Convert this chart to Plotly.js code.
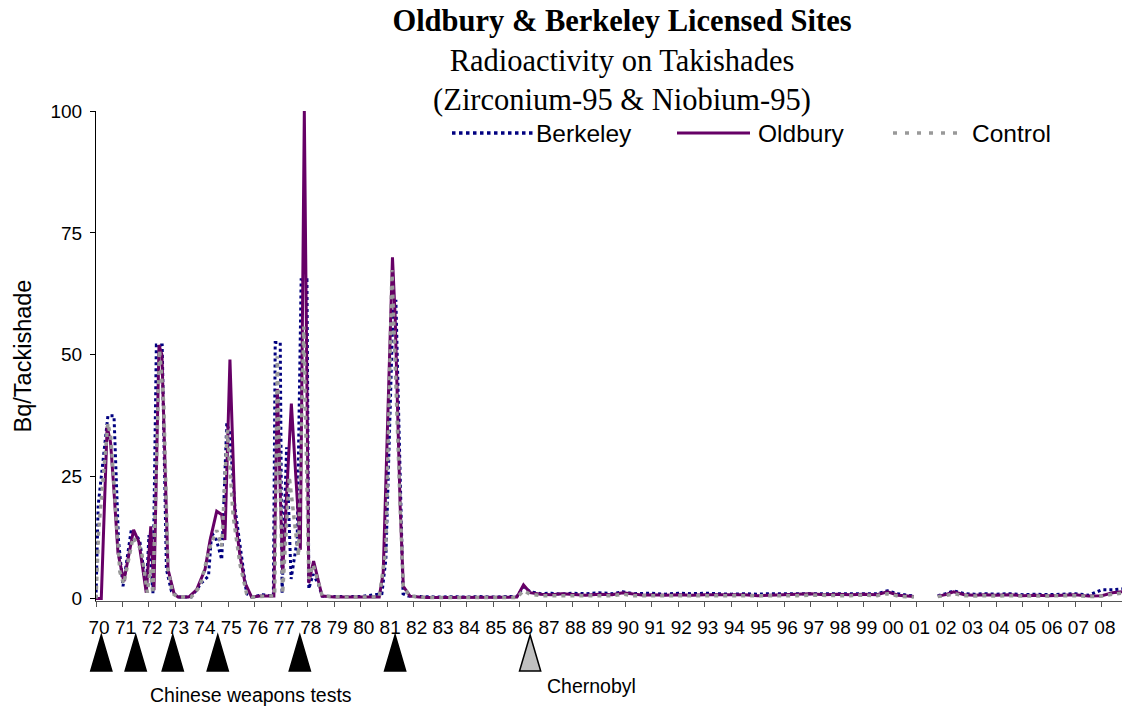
<!DOCTYPE html>
<html>
<head>
<meta charset="utf-8">
<script src="https://cdn.plot.ly/plotly-3.0.1.min.js"></script>
<style>
  html, body { margin: 0; padding: 0; background: #fff; }
  #grafica { width: 1123px; height: 710px; }
</style>
</head>
<body>
<div id="grafica"></div>
<script>
// valores (Bq por takishade), 1970-1982
const oldburyYr = [1970.0, 1970.2, 1970.42, 1970.55, 1970.65, 1970.83, 1971.05, 1971.42, 1971.62, 1971.9,
  1972.07, 1972.19, 1972.38, 1972.49, 1972.72, 1972.95, 1973.1, 1973.5, 1973.8, 1974.12,
  1974.31, 1974.56, 1974.75, 1974.87, 1975.06, 1975.25, 1975.44, 1975.63, 1975.88, 1976.2,
  1976.72, 1976.85, 1977.05, 1977.38, 1977.72, 1977.87, 1978.04, 1978.22, 1978.54, 1979.0,
  1979.5, 1980.0, 1980.7, 1980.85, 1981.2, 1981.3, 1981.49, 1981.61, 1981.86, 1982.2];
const oldburyBq = [0, 0, 35.3, 32, 24.4, 9.4, 3.5, 14.1, 11.6, 1.2,
  14.8, 1.7, 52, 50, 6, 1, 0.3, 0.3, 1.8, 6,
  12, 17.9, 17.2, 12, 49, 16.9, 8.7, 3.2, 0.3, 0.5,
  0.5, 43, 5.3, 40, 10, 100, 3.2, 7.7, 0.5, 0.3,
  0.3, 0.3, 0.3, 5.3, 70, 58, 19, 2.5, 0.5, 0.3];

const berkeleyYr = [1970.0, 1970.08, 1970.45, 1970.68, 1970.85, 1971.02, 1971.33, 1971.65, 1971.9, 1972.0,
  1972.15, 1972.28, 1972.5, 1972.66, 1972.85, 1973.1, 1973.6, 1974.0, 1974.25, 1974.37,
  1974.55, 1974.75, 1974.94, 1975.05, 1975.25, 1975.5, 1975.69, 1975.9, 1976.3, 1976.7,
  1976.77, 1976.96, 1977.03, 1977.2, 1977.37, 1977.6, 1977.75, 1977.97, 1978.04, 1978.2,
  1978.4, 1978.55, 1979.0, 1980.0, 1980.8, 1980.95, 1981.23, 1981.33, 1981.6, 1981.8, 1982.2];
const berkeleyBq = [0, 19, 37.5, 37.5, 12, 2.5, 14, 12, 1.8, 13,
  1, 52, 52, 6, 1.5, 0.3, 0.3, 3.3, 4.6, 13.5,
  12, 8, 36, 34, 18.6, 8, 1, 0.3, 0.8, 0.5,
  52.5, 52.5, 1, 31, 4, 12, 65.4, 65.4, 2, 5,
  3, 0.5, 0.4, 0.4, 1, 8, 61, 61, 1, 0.5, 0.4];

const controlYr = [1970.0, 1970.1, 1970.45, 1970.56, 1970.9, 1971.05, 1971.4, 1971.71, 1971.94, 1972.05,
  1972.15, 1972.4, 1972.56, 1972.72, 1972.9, 1973.1, 1973.6, 1973.93, 1974.31, 1974.56,
  1974.75, 1974.96, 1975.18, 1975.44, 1975.69, 1975.9, 1976.5, 1976.75, 1976.85, 1977.05,
  1977.3, 1977.65, 1977.85, 1978.04, 1978.2, 1978.55, 1979.5, 1980.7, 1980.95, 1981.18,
  1981.49, 1981.61, 1981.86, 1982.2];
const controlBq = [0, 14, 36, 33, 5.5, 3, 12.6, 10, 1.2, 6,
  1, 51, 40, 6, 1, 0.3, 0.3, 2.5, 10.7, 14,
  10.7, 34.6, 17, 7, 1, 0.3, 0.5, 0.5, 49.7, 1,
  25, 8.7, 55.8, 4, 7, 0.5, 0.3, 0.3, 10, 67.4,
  19, 2.5, 0.5, 0.3];

// 1982-2008, mismas fechas para las tres series (null = sin dato)
const lateYr = [1982.5, 1983, 1983.5, 1984, 1984.5, 1985, 1985.5, 1985.9,
  1986.15, 1986.4, 1986.8,
  1987.2, 1987.6, 1988, 1988.5, 1989, 1989.5, 1989.9,
  1990.3, 1990.7, 1991, 1991.5, 1992, 1992.5, 1993, 1993.5, 1994, 1994.5,
  1995, 1995.5, 1996, 1996.5, 1997, 1997.5, 1998, 1998.5, 1999, 1999.5,
  1999.9, 2000.3, 2000.9, 2001.3,
  2001.8, 2002.1, 2002.4, 2002.8, 2003.2, 2003.6, 2004, 2004.5,
  2005, 2005.5, 2006, 2006.5, 2007, 2007.5, 2008, 2008.4, 2008.76];
const lateOldbury = [0.2, 0.2, 0.2, 0.2, 0.2, 0.2, 0.2, 0.3,
  2.8, 1.2, 0.9,
  0.8, 1.0, 0.8, 0.7, 0.9, 0.8, 1.2,
  0.9, 0.7, 0.8, 0.7, 0.8, 0.7, 0.8, 0.8, 0.7, 0.8,
  0.6, 0.7, 0.7, 0.8, 1.0, 0.8, 0.9, 0.8, 0.9, 0.8,
  1.4, 0.7, 0.4, null,
  0.5, 0.8, 1.4, 0.8, 0.7, 0.8, 0.7, 0.8,
  0.6, 0.7, 0.6, 0.7, 0.8, 0.5, 0.6, 1.2, 1.4];
const lateBerkeley = [0.4, 0.3, 0.4, 0.3, 0.4, 0.3, 0.4, 0.4,
  2.4, 1.4, 1.0,
  1.1, 0.9, 1.1, 1.0, 1.2, 1.0, 1.4,
  1.0, 1.0, 1.1, 0.9, 1.1, 1.0, 1.1, 1.0, 0.9, 1.0,
  0.9, 1.0, 1.0, 1.1, 1.1, 1.0, 1.1, 1.0, 1.1, 1.0,
  1.6, 1.0, 0.5, null,
  0.6, 1.0, 1.6, 1.0, 0.9, 1.0, 0.9, 1.0,
  0.8, 0.9, 0.8, 0.9, 1.0, 0.7, 1.8, 1.8, 2.0];
const lateControl = [0.2, 0.2, 0.2, 0.2, 0.2, 0.2, 0.2, 0.2,
  1.6, 0.9, 0.6,
  0.6, 0.7, 0.6, 0.6, 0.7, 0.6, 0.9,
  0.6, 0.6, 0.6, 0.5, 0.6, 0.6, 0.6, 0.6, 0.5, 0.6,
  0.5, 0.5, 0.6, 0.6, 0.7, 0.6, 0.6, 0.6, 0.7, 0.6,
  1.0, 0.5, 0.3, null,
  0.4, 0.6, 1.0, 0.6, 0.5, 0.6, 0.5, 0.6,
  0.5, 0.5, 0.5, 0.5, 0.6, 0.4, 0.5, 0.9, 1.1];

const yearTicks = [1970, 1971, 1972, 1973, 1974, 1975, 1976, 1977, 1978, 1979,
  1980, 1981, 1982, 1983, 1984, 1985, 1986, 1987, 1988, 1989,
  1990, 1991, 1992, 1993, 1994, 1995, 1996, 1997, 1998, 1999,
  2000, 2001, 2002, 2003, 2004, 2005, 2006, 2007, 2008];
const yearLabels = ["70", "71", "72", "73", "74", "75", "76", "77", "78", "79",
  "80", "81", "82", "83", "84", "85", "86", "87", "88", "89",
  "90", "91", "92", "93", "94", "95", "96", "97", "98", "99",
  "00", "01", "02", "03", "04", "05", "06", "07", "08"];

const pruebasChinas = [1970.2, 1971.5, 1972.9, 1974.6, 1977.7, 1981.3];
const chernobyl = [1986.4];

const nombres = ["Berkeley", "Oldbury", "Control"];
const colores = ["#000080", "#660066", "#999999"];

// geometria del area de trazado (px)
const L = 96, T = 111, W = 1026, H = 490;
const X0 = 1970, X1 = 2008.76;
const px2x = p => (p - L) / W;
const py2y = p => 1 - (p - T) / H;
const yr2x = y => (y - X0) / (X1 - X0);

const fuente = "Liberation Sans, Arial, sans-serif";

let datos = [
  {x: berkeleyYr.concat(lateYr), y: berkeleyBq.concat(lateBerkeley), name: nombres[0],
   mode: "lines", line: {color: colores[0], width: 3, dash: "dot"}},
  {x: oldburyYr.concat(lateYr), y: oldburyBq.concat(lateOldbury), name: nombres[1],
   mode: "lines", line: {color: colores[1], width: 3}},
  {x: controlYr.concat(lateYr), y: controlBq.concat(lateControl), name: nombres[2],
   mode: "lines", line: {color: colores[2], width: 3.5, dash: "4px,5px"}}
];

let formas = [];
let notas = [];

// leyenda dibujada a mano (muestras largas como en el original)
const legX0 = [452, 677, 893], legX1 = [533, 750, 957], legTx = [534, 756, 970];
const legDash = ["dot", "solid", "4px,8px"];
const legY = 133;
for (let i = 0; i < nombres.length; i++) {
  formas.push({type: "line", xref: "paper", yref: "paper",
    x0: px2x(legX0[i]), x1: px2x(legX1[i]), y0: py2y(legY), y1: py2y(legY),
    line: {color: colores[i], width: i == 1 ? 3 : 3.5, dash: legDash[i]}});
  notas.push({text: nombres[i], xref: "paper", yref: "paper", x: px2x(legTx[i]), y: py2y(legY),
    xanchor: "left", yanchor: "middle", showarrow: false,
    font: {family: fuente, size: 24.5, color: "#000"}});
}

// triangulos bajo el eje
function triangulo(yr, relleno) {
  let a = yr2x(yr - 0.4), b = yr2x(yr), c = yr2x(yr + 0.4);
  let y0 = py2y(671), y1 = py2y(635);
  return {type: "path", xref: "paper", yref: "paper",
    path: `M ${a},${y0} L ${b},${y1} L ${c},${y0} Z`,
    fillcolor: relleno, line: {color: "#000", width: 1.5}};
}
pruebasChinas.forEach(yr => formas.push(triangulo(yr, "#000")));
chernobyl.forEach(yr => formas.push(triangulo(yr, "#c0c0c0")));

notas.push({text: "Chinese weapons tests", xref: "paper", yref: "paper", x: px2x(251), y: py2y(695),
  xanchor: "center", yanchor: "middle", showarrow: false, font: {family: fuente, size: 19.5, color: "#000"}});
notas.push({text: "Chernobyl", xref: "paper", yref: "paper", x: px2x(545), y: py2y(686),
  xanchor: "left", yanchor: "middle", showarrow: false, font: {family: fuente, size: 19.5, color: "#000"}});

let layout = {
  width: 1123, height: 710,
  margin: {l: L, r: 1123 - L - W, t: T, b: 710 - T - H},
  paper_bgcolor: "#fff", plot_bgcolor: "#fff",
  showlegend: false, hovermode: false,
  title: {
    text: "<b>Oldbury &amp; Berkeley Licensed Sites</b><br>Radioactivity on Takishades<br>(Zirconium-95 &amp; Niobium-95)",
    font: {family: "Liberation Serif, Times New Roman, serif", size: 30.5, color: "#000"},
    xref: "container", yref: "container", x: 622 / 1123, xanchor: "center", y: 1 - 31 / 710, yanchor: "top"
  },
  xaxis: {
    range: [X0, X1], tickmode: "array", tickvals: yearTicks, ticktext: yearLabels,
    ticks: "outside", ticklen: 5, tickcolor: "#555", showline: true, linecolor: "#555", linewidth: 1,
    showgrid: false, zeroline: false, ticklabelshift: 3, ticklabelstandoff: 4,
    tickfont: {family: fuente, size: 19, color: "#000"}
  },
  yaxis: {
    range: [-0.5, 100], tickvals: [0, 25, 50, 75, 100],
    ticks: "outside", ticklen: 5, tickcolor: "#000", showline: true, linecolor: "#000", linewidth: 1,
    showgrid: false, zeroline: false, ticklabelstandoff: 4,
    tickfont: {family: fuente, size: 19, color: "#000"},
    title: {text: "Bq/Tackishade", font: {family: fuente, size: 23.5, color: "#000"}, standoff: 12}
  },
  shapes: formas,
  annotations: notas
};

Plotly.newPlot("grafica", datos, layout, {displayModeBar: false, staticPlot: true});
</script>
</body>
</html>
